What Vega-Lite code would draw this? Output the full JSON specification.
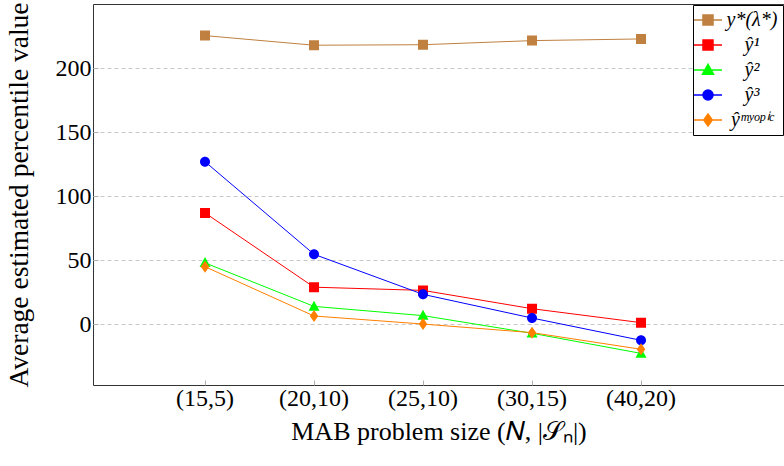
{
  "$schema": "https://vega.github.io/schema/vega-lite/v6.json",
  "width": 691,
  "height": 381,
  "autosize": {"type": "none"},
  "padding": {"left": 93, "top": 4, "right": 0, "bottom": 81},
  "background": "white",
  "config": {
    "font": "Liberation Serif",
    "view": {"stroke": "#333333", "strokeWidth": 1},
    "axis": {
      "labelFont": "Liberation Serif",
      "titleFont": "Liberation Serif",
      "labelFontSize": 24,
      "titleFontSize": 26,
      "labelColor": "black",
      "titleColor": "black",
      "titleFontWeight": "normal",
      "domain": false,
      "tickColor": "#b0b0b0",
      "tickSize": -5,
      "gridColor": "#c8c8c8",
      "gridDash": [4, 3],
      "gridWidth": 1
    },
    "legend": {
      "orient": "top-right",
      "offset": 1,
      "strokeColor": "black", "fillColor": "white", "padding": 5,
      "labelFont": "Liberation Serif", "labelFontSize": 20, "labelFontStyle": "italic", "labelColor": "black",
      "rowPadding": 5, "labelOffset": 34, "labelAlign": "center", "symbolOffset": 0
    }
  },
  "data": {
    "values": [
      {"size": "(15,5)", "series": "y*(λ*)", "value": 225.5},
      {"size": "(20,10)", "series": "y*(λ*)", "value": 218.0},
      {"size": "(25,10)", "series": "y*(λ*)", "value": 218.4},
      {"size": "(30,15)", "series": "y*(λ*)", "value": 221.6},
      {"size": "(40,20)", "series": "y*(λ*)", "value": 222.9},
      {"size": "(15,5)", "series": "ŷ¹", "value": 87},
      {"size": "(20,10)", "series": "ŷ¹", "value": 29},
      {"size": "(25,10)", "series": "ŷ¹", "value": 26.5},
      {"size": "(30,15)", "series": "ŷ¹", "value": 12.2},
      {"size": "(40,20)", "series": "ŷ¹", "value": 1.3},
      {"size": "(15,5)", "series": "ŷ²", "value": 48},
      {"size": "(20,10)", "series": "ŷ²", "value": 14},
      {"size": "(25,10)", "series": "ŷ²", "value": 6.8},
      {"size": "(30,15)", "series": "ŷ²", "value": -7},
      {"size": "(40,20)", "series": "ŷ²", "value": -22.7},
      {"size": "(15,5)", "series": "ŷ³", "value": 127},
      {"size": "(20,10)", "series": "ŷ³", "value": 54.7},
      {"size": "(25,10)", "series": "ŷ³", "value": 23.4},
      {"size": "(30,15)", "series": "ŷ³", "value": 4.9},
      {"size": "(40,20)", "series": "ŷ³", "value": -12.5},
      {"size": "(15,5)", "series": "ŷᵐʸᵒᵖⁱᶜ", "value": 45},
      {"size": "(20,10)", "series": "ŷᵐʸᵒᵖⁱᶜ", "value": 6.5},
      {"size": "(25,10)", "series": "ŷᵐʸᵒᵖⁱᶜ", "value": 0.2},
      {"size": "(30,15)", "series": "ŷᵐʸᵒᵖⁱᶜ", "value": -6.5},
      {"size": "(40,20)", "series": "ŷᵐʸᵒᵖⁱᶜ", "value": -19.5}
    ]
  },
  "layer": [
    {
      "mark": {"type": "line", "strokeWidth": 1},
      "encoding": {
        "x": {
          "field": "size", "type": "ordinal",
          "sort": ["(15,5)", "(20,10)", "(25,10)", "(30,15)", "(40,20)"],
          "scale": {"type": "band", "paddingInner": 0, "paddingOuter": 0.6697, "align": 0.394},
          "axis": {"orient": "bottom", "title": "MAB problem size (𝑁, |𝒮ₙ|)", "labelAngle": 0, "labelPadding": 6, "titlePadding": 8, "grid": false}
        },
        "y": {
          "field": "value", "type": "quantitative",
          "scale": {"domain": [-47.4, 250.2], "nice": false, "zero": false},
          "axis": {"values": [0, 50, 100, 150, 200], "title": "Average estimated percentile value", "titleFontSize": 27.5, "labelPadding": 7, "titlePadding": 22, "grid": true}
        },
        "color": {
          "field": "series", "type": "nominal",
          "scale": {"domain": ["y*(λ*)", "ŷ¹", "ŷ²", "ŷ³", "ŷᵐʸᵒᵖⁱᶜ"], "range": ["#bf8040", "#ff0000", "#00ff00", "#0000ff", "#ff8000"]},
          "title": null
        }
      }
    },
    {
      "mark": {"type": "point", "filled": true, "size": 100, "opacity": 1, "strokeWidth": 0},
      "encoding": {
        "x": {"field": "size", "type": "ordinal", "sort": ["(15,5)", "(20,10)", "(25,10)", "(30,15)", "(40,20)"]},
        "y": {"field": "value", "type": "quantitative"},
        "color": {
          "field": "series", "type": "nominal", "title": null,
          "legend": {"encode": {"symbols": {"update": {"stroke": {"scale": "color", "field": "value"}, "strokeWidth": {"value": 1}}}}}
        },
        "shape": {
          "field": "series", "type": "nominal", "title": null,
          "scale": {
            "domain": ["y*(λ*)", "ŷ¹", "ŷ²", "ŷ³", "ŷᵐʸᵒᵖⁱᶜ"],
            "range": [
              "M-2.8,0H2.8M-1,-1H1V1H-1Z",
              "M-2.8,0H2.8M-1,-1H1V1H-1Z",
              "M-2.8,0H2.8M0,-1.15L1.1,0.85H-1.1Z",
              "M-2.8,0H2.8M-1,0A1,1,0,1,0,1,0A1,1,0,1,0,-1,0Z",
              "M-2.8,0H2.8M0,-1.2L0.85,0L0,1.2L-0.85,0Z"
            ]
          }
        }
      }
    }
  ]
}
